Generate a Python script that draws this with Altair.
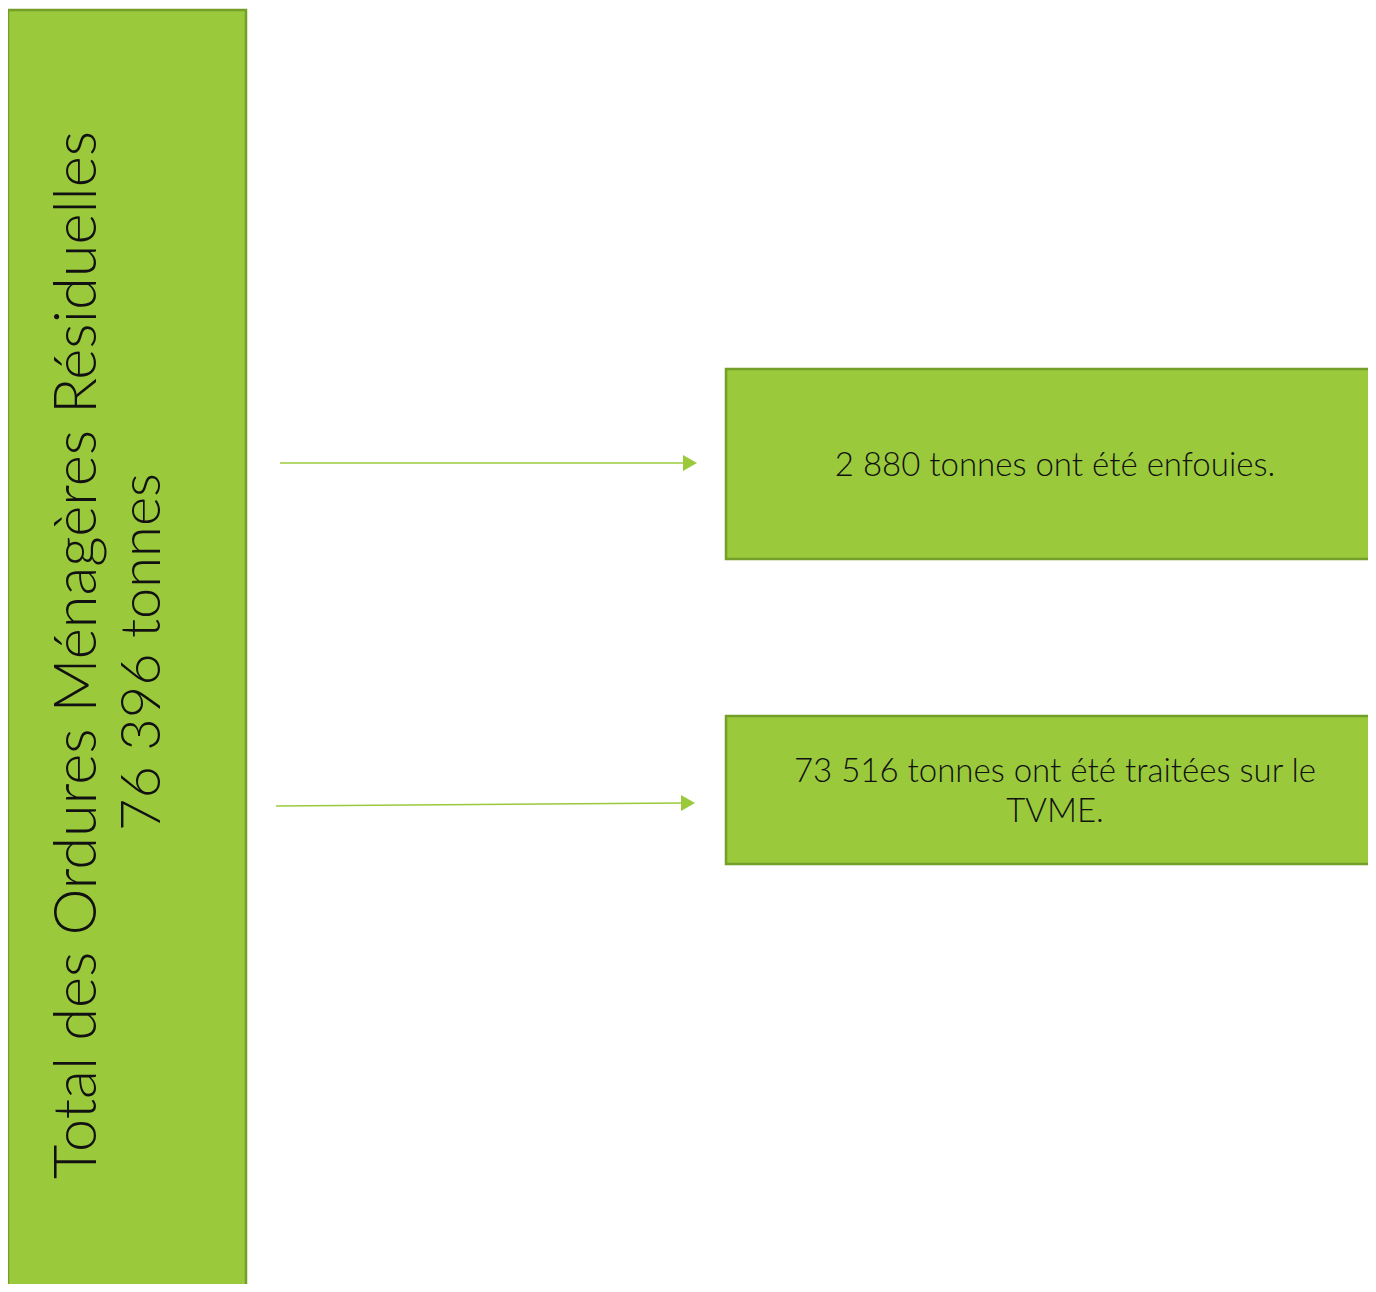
import altair as alt
import pandas as pd

# --- content ---
total_label = ["Total des Ordures Ménagères Résiduelles", "76 396 tonnes"]
box_labels = [["2 880 tonnes ont été enfouies."],
              ["73 516 tonnes ont été traitées sur le", "TVME."]]

# --- layout (reference pixel coordinates) ---
W, H = 1360, 1276
OX, OY = 8, 8
boxes = pd.DataFrame({
    "x": [8, 726, 726], "x2": [246, 1400, 1400],
    "y": [10, 369, 716], "y2": [1320, 559, 864],
})
arrows = pd.DataFrame({
    "x": [280, 276], "x2": [686, 684],
    "y": [463, 806], "y2": [463, 803],
})
heads = pd.DataFrame({"x": [690, 688], "y": [463, 803]})

left_text = pd.DataFrame({"x": [78, 143], "y": [655, 652], "t": total_label, "fs": [59.5, 56]})
right_rows = []
ys = [[466], [772, 812]]
for lines, yy in zip(box_labels, ys):
    for t, y in zip(lines, yy):
        right_rows.append({"x": 1055, "y": y, "t": t})
right_text = pd.DataFrame(right_rows)

xs = alt.Scale(domain=[OX, OX + W], range=[0, W])
ysc = alt.Scale(domain=[OY, OY + H], range=[0, H])

def X(f="x"):
    return alt.X(f"{f}:Q", scale=xs, axis=None)

def Y(f="y"):
    return alt.Y(f"{f}:Q", scale=ysc, axis=None)

fill = "#9ACA3C"
stroke = "#74A02A"
arrow_c = "#9ACA3C"
font = "Lato"

rects = alt.Chart(boxes).mark_rect(fill=fill, stroke=stroke, strokeWidth=2.5, clip=True).encode(
    x=X("x"), x2="x2:Q", y=Y("y"), y2="y2:Q")

lines = alt.Chart(arrows).mark_rule(color=arrow_c, strokeWidth=1.5).encode(
    x=X("x"), x2="x2:Q", y=Y("y"), y2="y2:Q")

tri = alt.Chart(heads).mark_point(shape="triangle-right", filled=True, color=arrow_c,
                                  opacity=1, size=260).encode(x=X("x"), y=Y("y"))

ltxt = alt.Chart(left_text).mark_text(angle=270, align="center", baseline="middle",
                                      font=font, fontWeight=300,
                                      color="#111111").encode(
    x=X("x"), y=Y("y"), text="t:N",
    size=alt.Size("fs:Q", scale=None, legend=None))

rtxt = alt.Chart(right_text).mark_text(align="center", baseline="middle",
                                       font=font, fontSize=33, fontWeight=300,
                                       color="#111111").encode(x=X("x"), y=Y("y"), text="t:N")

chart = alt.layer(rects, lines, tri, ltxt, rtxt).properties(
    width=W, height=H, padding=0, autosize=alt.AutoSizeParams(type="none")
).configure_view(stroke=None)

chart.save("out.html", embed_options={"renderer": "svg", "actions": False})
